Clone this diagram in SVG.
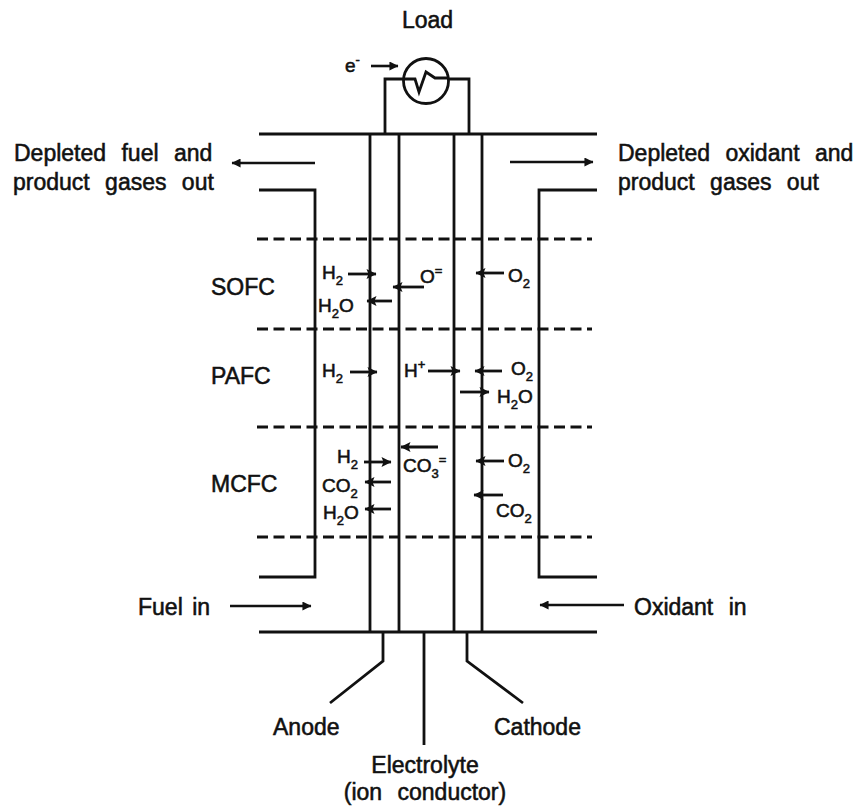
<svg xmlns="http://www.w3.org/2000/svg" width="856" height="808" viewBox="0 0 856 808">
<defs>
<marker id="a" viewBox="0 0 10 10" refX="9.5" refY="5" markerWidth="12" markerHeight="9" markerUnits="userSpaceOnUse" orient="auto"><path d="M0 0L10 5L0 10Z" fill="#111"/></marker>
<marker id="b" viewBox="0 0 10 10" refX="9.5" refY="5" markerWidth="13" markerHeight="10" markerUnits="userSpaceOnUse" orient="auto"><path d="M0 0L10 5L0 10L2 5Z" fill="#111"/></marker>
</defs>
<style>
text{font-family:"Liberation Sans",Arial,sans-serif;font-size:23px;fill:#111;stroke:#111;stroke-width:.55px}
.w{word-spacing:9px}
.n{word-spacing:3px}
.m{font-size:19px}
.s{font-size:13px}
.l{fill:none;stroke:#111;stroke-width:2.8}
.d{fill:none;stroke:#111;stroke-width:3;stroke-dasharray:11 5.5}
.r{stroke:#111;stroke-width:2.6;fill:none;marker-end:url(#a)}
.q{stroke:#111;stroke-width:2.8;fill:none;marker-end:url(#b)}
</style>
<rect width="856" height="808" fill="#fff"/>
<g id="connectors">
<path class="l" d="M259 134H597M259 632H597M259 190H315V577H259M597 190H539V577H597"/>
<path class="l" d="M370 134V632M399 134V632M454 134V632M482 134V632"/>
<path class="d" d="M257 239H592M257 329H592M257 427H592M257 537H592"/>
<path class="l" d="M383 632V661L330 703M424 632V745M467 632V661L523 703"/>
<path class="l" d="M385 134V79H469V134"/>
<path class="r" d="M315 163H232"/>
<path class="r" d="M510 162H593"/>
<path class="r" d="M230 606H311"/>
<path class="r" d="M624 605H540"/>
<path class="r" d="M371 66H398"/>
<path class="q" d="M348 274H376"/>
<path class="q" d="M392 301H367"/>
<path class="q" d="M424 287H393"/>
<path class="q" d="M504 273H476"/>
<path class="q" d="M350 372H377"/>
<path class="q" d="M428 371H460"/>
<path class="q" d="M502 371H475"/>
<path class="q" d="M460 392H489"/>
<path class="q" d="M364 462H391"/>
<path class="q" d="M438 447H401"/>
<path class="q" d="M504 461H476"/>
<path class="q" d="M391 482H365"/>
<path class="q" d="M391 509H365"/>
<path class="q" d="M503 495H474"/>
</g>
<g id="load"><circle cx="426" cy="81" r="22.5" fill="#fff" stroke="#111" stroke-width="2.8"/><path d="M404 79H415L419 92L426 72L435 78H448" fill="none" stroke="#111" stroke-width="2.8"/>
<text x="402" y="28">Load</text><text class="m" x="345" y="72">e<tspan class="s" dy="-8">-</tspan></text></g>
<g id="labels-left"><text class="w" x="14" y="161">Depleted fuel and</text><text class="w" x="13" y="190">product gases out</text><text class="n" x="138" y="615">Fuel in</text><text x="211" y="295">SOFC</text><text x="211" y="384">PAFC</text><text x="211" y="492">MCFC</text></g>
<g id="labels-right"><text class="w" x="618" y="161">Depleted oxidant and</text><text class="w" x="618" y="190">product gases out</text><text class="w" x="634" y="615">Oxidant in</text></g>
<g id="labels-bottom"><text x="273" y="735">Anode</text><text x="494" y="735">Cathode</text><text x="425" y="773" text-anchor="middle">Electrolyte</text><text class="w" x="425" y="800" text-anchor="middle">(ion conductor)</text></g>
<g id="species">
<text class="m" x="322" y="279">H<tspan class="s" dy="6">2</tspan></text>
<text class="m" x="318" y="312">H<tspan class="s" dy="6">2</tspan><tspan dy="-6">O</tspan></text>
<text class="m" x="420" y="283">O<tspan class="s" dy="-8">=</tspan></text>
<text class="m" x="508" y="282">O<tspan class="s" dy="6">2</tspan></text>
<text class="m" x="322" y="377">H<tspan class="s" dy="6">2</tspan></text>
<text class="m" x="404" y="377">H<tspan class="s" dy="-8">+</tspan></text>
<text class="m" x="511" y="375">O<tspan class="s" dy="6">2</tspan></text>
<text class="m" x="497" y="403">H<tspan class="s" dy="6">2</tspan><tspan dy="-6">O</tspan></text>
<text class="m" x="337" y="463">H<tspan class="s" dy="6">2</tspan></text>
<text class="m" x="403" y="472">CO<tspan class="s" dy="6">3</tspan><tspan class="s" dy="-14">=</tspan></text>
<text class="m" x="508" y="467">O<tspan class="s" dy="6">2</tspan></text>
<text class="m" x="322" y="492">CO<tspan class="s" dy="6">2</tspan></text>
<text class="m" x="323" y="519">H<tspan class="s" dy="6">2</tspan><tspan dy="-6">O</tspan></text>
<text class="m" x="496" y="517">CO<tspan class="s" dy="6">2</tspan></text>
</g>
</svg>
